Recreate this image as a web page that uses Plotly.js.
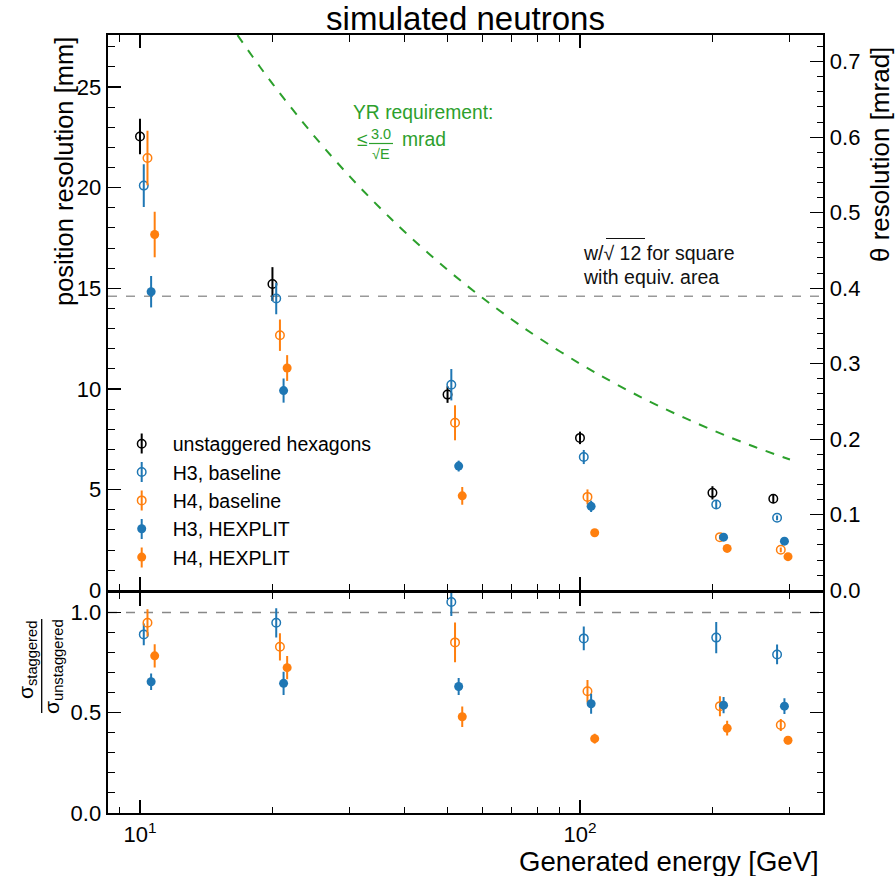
<!DOCTYPE html>
<html><head><meta charset="utf-8">
<script src="https://cdn.plot.ly/plotly-3.0.1.min.js"></script>
<style>html,body{margin:0;padding:0;background:#fff}</style>
</head><body><div id="plot" style="width:895px;height:876px"></div>
<script>
// ---------------- data ----------------
const energies = [10, 20, 50, 100, 200, 275];

const unstagPos = [22.54, 15.21, 9.72, 7.57, 4.84, 4.55];
const unstagErr = [0.88, 0.84, 0.41, 0.31, 0.33, 0.22];
const h3BasePos = [20.10, 14.49, 10.21, 6.62, 4.26, 3.60];
const h3BaseErr = [1.06, 0.78, 0.78, 0.35, 0.22, 0.12];
const h4BasePos = [21.47, 12.67, 8.32, 4.64, 2.64, 2.01];
const h4BaseErr = [1.35, 0.78, 0.87, 0.37, 0.12, 0.12];
const h3HexPos = [14.83, 9.92, 6.17, 4.17, 2.64, 2.44];
const h3HexErr = [0.78, 0.60, 0.27, 0.28, 0.08, 0.08];
const h4HexPos = [17.67, 11.04, 4.69, 2.86, 2.08, 1.67];
const h4HexErr = [1.13, 0.64, 0.44, 0.10, 0.08, 0.08];

const h3BaseRatio = [0.891, 0.949, 1.053, 0.871, 0.875, 0.791];
const h3BaseRatioErr = [0.054, 0.073, 0.070, 0.059, 0.078, 0.049];
const h4BaseRatio = [0.949, 0.829, 0.851, 0.607, 0.533, 0.439];
const h4BaseRatioErr = [0.068, 0.068, 0.099, 0.056, 0.050, 0.030];
const h3HexRatio = [0.655, 0.647, 0.631, 0.545, 0.538, 0.533];
const h3HexRatioErr = [0.041, 0.058, 0.042, 0.050, 0.041, 0.039];
const h4HexRatio = [0.784, 0.725, 0.480, 0.371, 0.423, 0.363];
const h4HexRatioErr = [0.058, 0.058, 0.051, 0.024, 0.037, 0.020];

// YR requirement curve: 3.0/sqrt(E) mrad
const yrEnergy = [15, 16, 18, 20, 25, 30, 35, 40, 50, 60, 70, 80, 100, 120, 150, 200, 250, 300];
const yrTheta = [0.7746, 0.75, 0.7071, 0.6708, 0.6, 0.5477, 0.5071, 0.4743, 0.4243, 0.3873, 0.3586, 0.3354, 0.3, 0.2739, 0.2449, 0.2121, 0.1897, 0.1732];

const squareRes = 14.6;   // w/sqrt(12) [mm]
const ratioRef = 1.0;

const xTickVals = [10, 100];
const xTickText = ['10<sup>1</sup>', '10<sup>2</sup>'];
const xMinorVals = [9, 20, 30, 40, 50, 60, 70, 80, 90, 200, 300];
const posTicks = [0, 5, 10, 15, 20, 25];
const thetaTicks = [0, 0.1, 0.2, 0.3, 0.4, 0.5, 0.6, 0.7];
const ratioTicks = [0, 0.5, 1.0];

// ---------------- style ----------------
const BLUE = '#1f77b4', ORANGE = '#ff7f0e', GREEN = '#2ca02c', BLACK = '#000000';
const FONT = 'Liberation Sans, Arial, Helvetica, sans-serif';
const W = 895, H = 876, L = 108, R = 823, T = 35, B = 813;
const px2x = p => (p - L) / (R - L);
const py2y = p => (B - p) / (B - T);
const LW = 2.4;
const splitTop = py2y(591.5 - LW / 2);
const splitBot = py2y(591.5 + LW / 2);

const series = [
  {name: 'unstaggered hexagons', color: BLACK, open: true, shift: 1.00, pos: unstagPos, err: unstagErr},
  {name: 'H3, baseline', color: BLUE, open: true, shift: 1.02, pos: h3BasePos, err: h3BaseErr, ratio: h3BaseRatio, rerr: h3BaseRatioErr},
  {name: 'H4, baseline', color: ORANGE, open: true, shift: 1.04, pos: h4BasePos, err: h4BaseErr, ratio: h4BaseRatio, rerr: h4BaseRatioErr},
  {name: 'H3, HEXPLIT', color: BLUE, open: false, shift: 1.06, pos: h3HexPos, err: h3HexErr, ratio: h3HexRatio, rerr: h3HexRatioErr},
  {name: 'H4, HEXPLIT', color: ORANGE, open: false, shift: 1.08, pos: h4HexPos, err: h4HexErr, ratio: h4HexRatio, rerr: h4HexRatioErr},
];

function marker(s) {
  return s.open
    ? {symbol: 'circle-open', size: 8.5, color: s.color, line: {color: s.color, width: 1.5}}
    : {symbol: 'circle', size: 9, color: s.color};
}

const traces = [];
series.forEach(s => {
  const xs = energies.map(e => e * s.shift);
  traces.push({
    type: 'scatter', mode: 'markers', name: s.name, x: xs, y: s.pos,
    xaxis: 'x', yaxis: 'y', marker: marker(s),
    error_y: {type: 'data', array: s.err, visible: true, width: 0, thickness: 2, color: s.color}
  });
});
series.forEach(s => {
  if (!s.ratio) return;
  const xs = energies.map(e => e * s.shift);
  traces.push({
    type: 'scatter', mode: 'markers', name: s.name, x: xs, y: s.ratio, showlegend: false,
    xaxis: 'x2', yaxis: 'y2', marker: marker(s),
    error_y: {type: 'data', array: s.rerr, visible: true, width: 0, thickness: 2, color: s.color}
  });
});
traces.push({
  type: 'scatter', mode: 'lines', x: yrEnergy, y: yrTheta, xaxis: 'x', yaxis: 'y3',
  line: {color: GREEN, width: 2, dash: 'dash', shape: 'spline'}, showlegend: false
});

const tickFont = {family: FONT, size: 22, color: '#000'};
const baseX = {
  type: 'log', range: [0.9273, 2.5523], domain: [0, 1],
  tickmode: 'array', tickvals: xTickVals, ticktext: xTickText,
  ticks: 'inside', ticklen: 13, tickwidth: 1.2, tickcolor: '#000',
  minor: {tickmode: 'array', tickvals: xMinorVals, ticks: 'inside', ticklen: 6.5, tickwidth: 1, tickcolor: '#000'},
  showline: true, linewidth: LW, linecolor: '#000', mirror: 'ticks',
  showgrid: false, zeroline: false, tickfont: tickFont
};

const layout = {
  width: W, height: H,
  margin: {l: L, r: W - R, t: T, b: H - B, pad: 0},
  paper_bgcolor: '#fff', plot_bgcolor: '#fff',
  font: {family: FONT, color: '#000'},
  title: {text: 'simulated neutrons', font: {family: FONT, size: 33, color: '#000'},
          x: 465.5 / W, xanchor: 'center', xref: 'container', y: 1 - 18 / H, yanchor: 'middle', yref: 'container'},
  showlegend: true,
  legend: {x: px2x(110.7), y: py2y(424.5), xanchor: 'left', yanchor: 'top', bgcolor: 'rgba(0,0,0,0)',
           font: {family: FONT, size: 19.5, color: '#000'}, itemwidth: 52, tracegroupgap: 0},
  xaxis: Object.assign({}, baseX, {anchor: 'y', showticklabels: false}),
  xaxis2: Object.assign({}, baseX, {anchor: 'y2', showticklabels: true}),
  yaxis: {
    domain: [splitTop, 1], range: [0, 27.58], anchor: 'x',
    tickmode: 'array', tickvals: posTicks, ticks: 'inside', ticklen: 13, tickwidth: 1.2, tickcolor: '#000',
    minor: {tickmode: 'linear', tick0: 0, dtick: 1, ticks: 'inside', ticklen: 6.5, tickwidth: 1, tickcolor: '#000'},
    showline: true, linewidth: LW, linecolor: '#000', showgrid: false, zeroline: false, tickfont: tickFont
  },
  yaxis3: {
    overlaying: 'y', side: 'right', anchor: 'x', range: [0, 0.7352],
    tickmode: 'array', tickvals: thetaTicks, tickformat: '.1f', ticks: 'inside', ticklen: 13, tickwidth: 1.2, tickcolor: '#000',
    minor: {tickmode: 'linear', tick0: 0, dtick: 0.02, ticks: 'inside', ticklen: 6.5, tickwidth: 1, tickcolor: '#000'},
    showline: true, linewidth: LW, linecolor: '#000', showgrid: false, zeroline: false, tickfont: tickFont
  },
  yaxis2: {
    domain: [0, splitBot], range: [0, 1.099], anchor: 'x2',
    tickmode: 'array', tickvals: ratioTicks, tickformat: '.1f', ticks: 'inside', ticklen: 13, tickwidth: 1.2, tickcolor: '#000',
    minor: {tickmode: 'linear', tick0: 0, dtick: 0.1, ticks: 'inside', ticklen: 6.5, tickwidth: 1, tickcolor: '#000'},
    showline: true, linewidth: LW, linecolor: '#000', mirror: 'ticks', showgrid: false, zeroline: false, tickfont: tickFont
  },
  shapes: [
    {type: 'line', xref: 'x domain', x0: 0, x1: 1, yref: 'y', y0: squareRes, y1: squareRes,
     line: {color: '#999', width: 1.5, dash: 'dash'}, layer: 'below'},
    {type: 'line', xref: 'x2 domain', x0: 0, x1: 1, yref: 'y2', y0: ratioRef, y1: ratioRef,
     line: {color: '#888', width: 1.5, dash: 'dash'}, layer: 'below'},
    // fraction bars
    {type: 'line', xref: 'paper', yref: 'paper', x0: px2x(41.7), x1: px2x(41.7), y0: py2y(619), y1: py2y(713),
     line: {color: '#000', width: 1.3}},
    {type: 'line', xref: 'paper', yref: 'paper', x0: px2x(369), x1: px2x(393), y0: py2y(143.5), y1: py2y(143.5),
     line: {color: GREEN, width: 1.2}},
    // sqrt vinculum over 12
    {type: 'line', xref: 'paper', yref: 'paper', x0: px2x(606), x1: px2x(645), y0: py2y(238.5), y1: py2y(238.5),
     line: {color: '#111', width: 1.2}}
  ],
  annotations: [
    {text: 'position resolution [mm]', textangle: -90, xref: 'paper', yref: 'paper',
     x: px2x(64), y: py2y(172), xanchor: 'center', yanchor: 'middle', showarrow: false,
     font: {family: FONT, size: 25.5, color: '#000'}},
    {text: 'θ resolution [mrad]', textangle: -90, xref: 'paper', yref: 'paper',
     x: px2x(880), y: py2y(154), xanchor: 'center', yanchor: 'middle', showarrow: false,
     font: {family: FONT, size: 26, color: '#000'}},
    {text: 'Generated energy [GeV]', xref: 'paper', yref: 'paper',
     x: px2x(821), y: py2y(861), xanchor: 'right', yanchor: 'middle', showarrow: false,
     font: {family: FONT, size: 27.5, color: '#000'}},
    {text: 'σ<sub>staggered</sub>', textangle: -90, xref: 'paper', yref: 'paper',
     x: px2x(27), y: py2y(660), xanchor: 'center', yanchor: 'middle', showarrow: false,
     font: {family: FONT, size: 21, color: '#000'}},
    {text: 'σ<sub>unstaggered</sub>', textangle: -90, xref: 'paper', yref: 'paper',
     x: px2x(53), y: py2y(667), xanchor: 'center', yanchor: 'middle', showarrow: false,
     font: {family: FONT, size: 21, color: '#000'}},
    {text: 'YR requirement:', xref: 'paper', yref: 'paper', x: px2x(351), y: py2y(112),
     xanchor: 'left', yanchor: 'middle', showarrow: false, font: {family: FONT, size: 19.3, color: GREEN}},
    {text: '≤', xref: 'paper', yref: 'paper', x: px2x(355), y: py2y(140),
     xanchor: 'left', yanchor: 'middle', showarrow: false, font: {family: FONT, size: 19.3, color: GREEN}},
    {text: '3.0', xref: 'paper', yref: 'paper', x: px2x(381), y: py2y(134.5),
     xanchor: 'center', yanchor: 'middle', showarrow: false, font: {family: FONT, size: 14.5, color: GREEN}},
    {text: '√E', xref: 'paper', yref: 'paper', x: px2x(381), y: py2y(153.5),
     xanchor: 'center', yanchor: 'middle', showarrow: false, font: {family: FONT, size: 14.5, color: GREEN}},
    {text: 'mrad', xref: 'paper', yref: 'paper', x: px2x(400), y: py2y(140),
     xanchor: 'left', yanchor: 'middle', showarrow: false, font: {family: FONT, size: 19.3, color: GREEN}},
    {text: 'w/√ 12 for square', xref: 'paper', yref: 'paper', x: px2x(581), y: py2y(253),
     xanchor: 'left', yanchor: 'middle', showarrow: false, font: {family: FONT, size: 19.5, color: '#111'}},
    {text: 'with equiv. area', xref: 'paper', yref: 'paper', x: px2x(581), y: py2y(277),
     xanchor: 'left', yanchor: 'middle', showarrow: false, font: {family: FONT, size: 19.5, color: '#111'}}
  ]
};

// legend error-bar glyphs (decorative, aligned with legend rows)
const legendRows = [443.5, 472, 500.5, 529, 557.5];
series.forEach((s, i) => {
  layout.shapes.push({type: 'line', xref: 'paper', yref: 'paper', x0: px2x(141.7), x1: px2x(141.7),
    y0: py2y(legendRows[i] - 10), y1: py2y(legendRows[i] + 10), line: {color: s.color, width: 2}});
});

Plotly.newPlot('plot', traces, layout, {displayModeBar: false, staticPlot: true});
</script></body></html>
